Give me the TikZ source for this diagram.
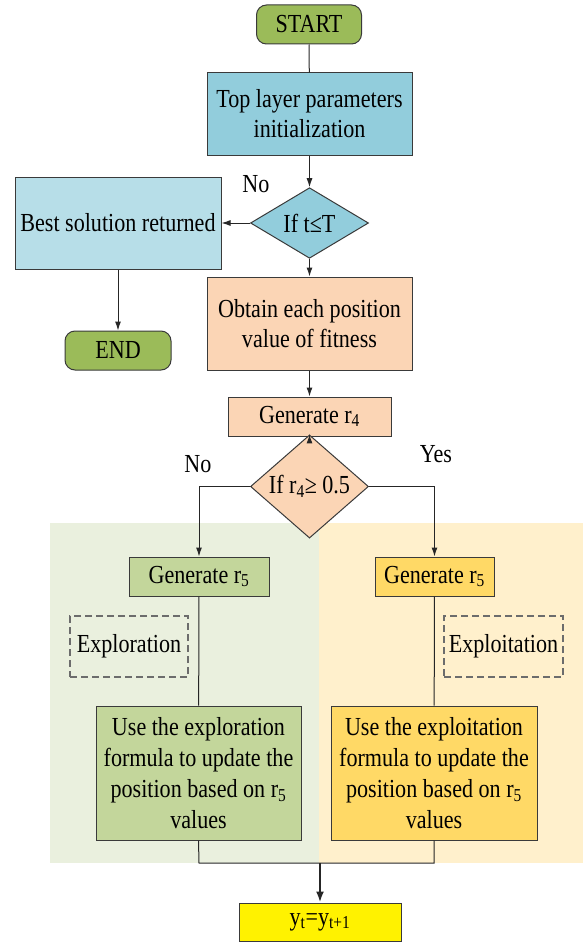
\documentclass[tikz,border=0pt]{standalone}
\usepackage{fontspec}
\setmainfont[FakeStretch=0.85]{Liberation Serif}
\usetikzlibrary{shapes.geometric,arrows.meta}
\definecolor{cgreen}{HTML}{9BBB59}
\definecolor{cblue}{HTML}{92CDDC}
\definecolor{clblue}{HTML}{B7DEE8}
\definecolor{cpeach}{HTML}{FBD5B5}
\definecolor{bggreen}{HTML}{EAF0DE}
\definecolor{bgyellow}{HTML}{FFF0CC}
\definecolor{cgreenbox}{HTML}{C3D69B}
\definecolor{cyellowbox}{HTML}{FFD966}
\definecolor{cborder}{HTML}{3A3A3A}
\begin{document}
\begin{tikzpicture}[x=1pt,y=-1pt,
  every node/.style={font=\fontsize{26}{30}\selectfont, inner sep=0pt, align=center},
  box/.style={draw=cborder, line width=1pt, rectangle},
  term/.style={box, rounded corners=10pt, fill=cgreen},
  dec/.style={draw=cborder, line width=1pt, diamond},
  dashbox/.style={draw=gray!85!black, line width=1.2pt, dash pattern=on 7pt off 4pt},
  conn/.style={line width=1pt, draw=black!85},
  arr/.style={conn, -{Latex[length=9pt,width=6pt]}},
  lbl/.style={font=\fontsize{26}{30}\selectfont}
]
\useasboundingbox (0,0) rectangle (583,942);
% backgrounds
\fill[bggreen] (50,523) rectangle (319,863);
\fill[bgyellow] (319,523) rectangle (583,863);

\node[term, minimum width=105pt, minimum height=39pt] (start) at (309,24.5) {START};
\node[box, fill=cblue, minimum width=205pt, minimum height=82pt] (top) at (309.5,114) {Top layer parameters\\initialization};
\node[dec, fill=cblue, minimum width=118pt, minimum height=60pt] (d1) at (309.5,223) {If t≤T};
\node[box, fill=clblue, minimum width=206pt, minimum height=92pt] (best) at (118,223) {Best solution returned};
\node[term, minimum width=106pt, minimum height=39pt] (end) at (118,350.5) {END};
\node[box, fill=cpeach, minimum width=205pt, minimum height=93pt] (obt) at (309.5,323.5) {Obtain each position\\value of fitness};
\node[box, fill=cpeach, minimum width=163pt, minimum height=39pt] (gen4) at (309.5,416.5) {Generate r\textsubscript{4}};
\node[dec, fill=cpeach, minimum width=118pt, minimum height=61pt] (d2) at (309.5,486.5) {If r\textsubscript{4}≥ 0.5};

\node[box, fill=cgreenbox, minimum width=140pt, minimum height=39pt] (g5l) at (199,576.5) {Generate r\textsubscript{5}};
\node[box, fill=cyellowbox, minimum width=119pt, minimum height=39pt] (g5r) at (434.5,576.5) {Generate r\textsubscript{5}};
\node[dashbox, minimum width=118pt, minimum height=61pt] (explor) at (129,646.5) {Exploration};
\node[dashbox, minimum width=119pt, minimum height=61pt] (exploit) at (503.5,646.5) {Exploitation};
\node[box, fill=cgreenbox, minimum width=205pt, minimum height=134pt, font=\fontsize{26}{31}\selectfont] (usel) at (198.5,773) {Use the exploration\\formula to update the\\position based on r\textsubscript{5}\\values};
\node[box, fill=cyellowbox, minimum width=206pt, minimum height=134pt, font=\fontsize{26}{31}\selectfont] (user) at (434,773) {Use the exploitation\\formula to update the\\position based on r\textsubscript{5}\\values};
\node[box, fill=yellow, minimum width=162pt, minimum height=38pt] (yt) at (320,922) {y\textsubscript{t}=y\textsubscript{t+1}};

\node[lbl] (no1) at (256,184) {No};
\node[lbl] (no2) at (198,464) {No};
\node[lbl] (yes) at (436,454) {Yes};

\coordinate (mL) at (199,863);
\coordinate (mR) at (434,863);
\coordinate (mC) at (320,863);

\draw[conn] (start) -- (top);
\draw[arr] (top) -- (d1);
\draw[arr] (d1.west) -- (best.east);
\draw[arr] (d1.south) -- (obt);
\draw[arr] (best) -- (end);
\draw[arr] (obt) -- (gen4);
\draw[arr] (gen4) -- (d2);
\draw[arr] (d2.west) -| (g5l.north);
\draw[arr] (d2.east) -| (g5r.north);
\draw[conn] (g5l) -- (usel);
\draw[conn] (g5r) -- (user);
\draw[conn] (usel.south) -- (mL) -- (mR) -- (user.south);
\draw[line width=2pt, draw=black!85, -{Latex[length=11pt,width=8pt]}] (mC) -- (yt.north);
\end{tikzpicture}
\end{document}
